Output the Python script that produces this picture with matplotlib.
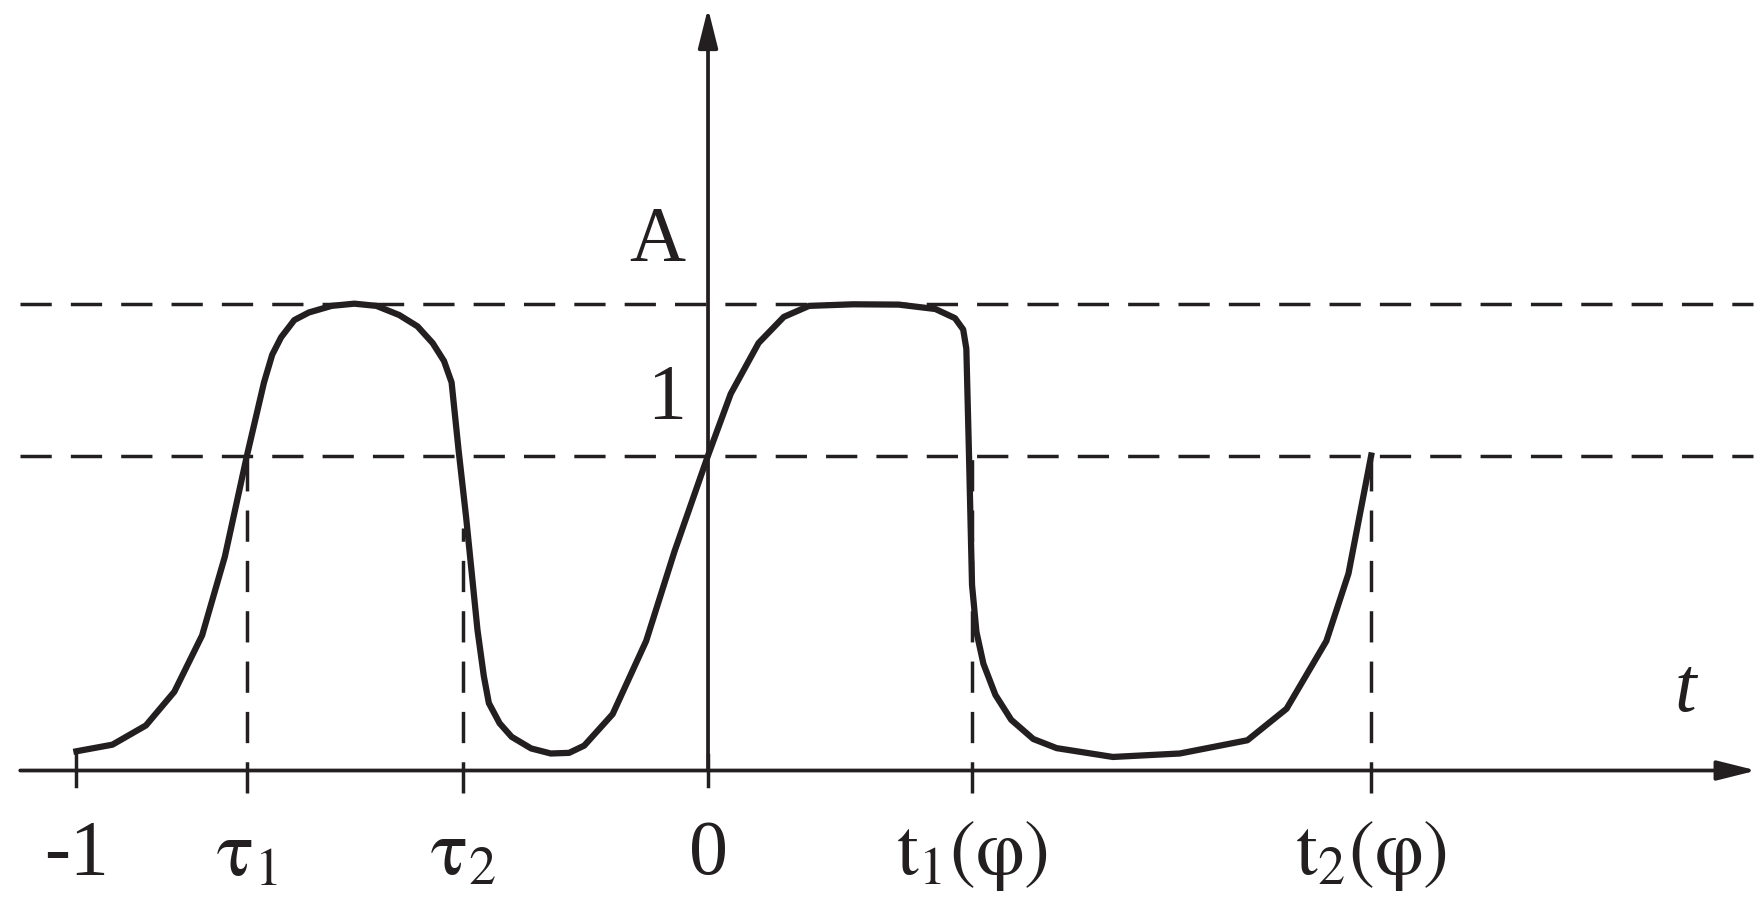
import matplotlib
matplotlib.use("Agg")
import matplotlib.pyplot as plt

plt.rcParams["mathtext.fontset"] = "stix"
plt.rcParams["font.family"] = ["Liberation Serif", "DejaVu Serif"]

# curve (t, amplitude)
t_vals = [-1.0, -0.943, -0.890, -0.845, -0.801, -0.765, -0.730, -0.703, -0.690, -0.676,
          -0.655, -0.632, -0.596, -0.560, -0.525, -0.489, -0.460, -0.436, -0.418, -0.406,
          -0.395, -0.383, -0.365, -0.355, -0.347, -0.330, -0.311, -0.280, -0.249, -0.220,
          -0.196, -0.151, -0.098, -0.053, 0.0, 0.036, 0.080, 0.120, 0.160, 0.230,
          0.302, 0.360, 0.391, 0.404, 0.409, 0.413, 0.418, 0.425, 0.436, 0.455,
          0.480, 0.515, 0.552, 0.641, 0.747, 0.854, 0.916, 0.979, 1.014, 1.050]
a_vals = [0.061, 0.082, 0.143, 0.250, 0.429, 0.679, 1.0, 1.232, 1.320, 1.375,
          1.430, 1.454, 1.475, 1.482, 1.475, 1.446, 1.410, 1.357, 1.300, 1.232,
          1.018, 0.804, 0.446, 0.300, 0.214, 0.150, 0.107, 0.070, 0.054, 0.056,
          0.079, 0.179, 0.411, 0.696, 1.0, 1.196, 1.357, 1.440, 1.475, 1.480,
          1.479, 1.465, 1.436, 1.400, 1.339, 1.018, 0.589, 0.440, 0.339, 0.240,
          0.161, 0.100, 0.071, 0.043, 0.054, 0.096, 0.196, 0.411, 0.625, 1.0]

tick_pos = [-1.0, -0.730, -0.388, 0.0, 0.418, 1.050]
tick_labels = ["-1", r"$\mathrm{\tau_1}$", r"$\mathrm{\tau_2}$",
               "0", r"$\mathrm{t_1(\varphi)}$", r"$\mathrm{t_2(\varphi)}$"]
drop_heights = [0.0, 1.0, 0.77, 0.0, 1.0, 1.0]
level_one = 1.0
level_top = 1.48

fig = plt.figure(figsize=(17.59, 9.11), dpi=100)
ax = fig.add_axes([0, 0, 1, 1])
ax.set_xlim(-1.121, 1.664)
ax.set_ylim(-0.446, 2.446)
ax.axis("off")

ink = "#231f20"
dash = dict(color=ink, lw=2.5, dashes=(9, 5.5))
ax.plot([-1.089, 1.655], [level_top, level_top], **dash)
ax.plot([-1.089, 1.655], [level_one, level_one], **dash)
for x, h in zip(tick_pos, drop_heights):
    if h > 0:
        ax.plot([x, x], [-0.07, h], **dash)
    else:
        ax.plot([x, x], [-0.05, 0.05], color=ink, lw=2.5)

# axes with arrows
arrow = dict(arrowstyle="-|>,head_length=2.4,head_width=0.6",
             color=ink, lw=2.7, shrinkA=0, shrinkB=0)
ax.annotate("", xy=(1.66, 0), xytext=(-1.089, 0), arrowprops=arrow)
ax.annotate("", xy=(0, 2.42), xytext=(0, 0), arrowprops=arrow)

ax.plot(t_vals, a_vals, color=ink, lw=4.5, solid_joinstyle="round")

for x, lab in zip(tick_pos, tick_labels):
    ax.text(x, -0.27, lab, ha="center", va="center", fontsize=56, color=ink)
ax.text(-0.08, 1.68, "A", ha="center", va="center", fontsize=56, color=ink)
ax.text(-0.065, 1.18, "1", ha="center", va="center", fontsize=56, color=ink)
ax.text(1.548, 0.25, "t", ha="center", va="center", fontsize=56,
        style="italic", color=ink)

fig.savefig("out.png", dpi=100, facecolor="white")
